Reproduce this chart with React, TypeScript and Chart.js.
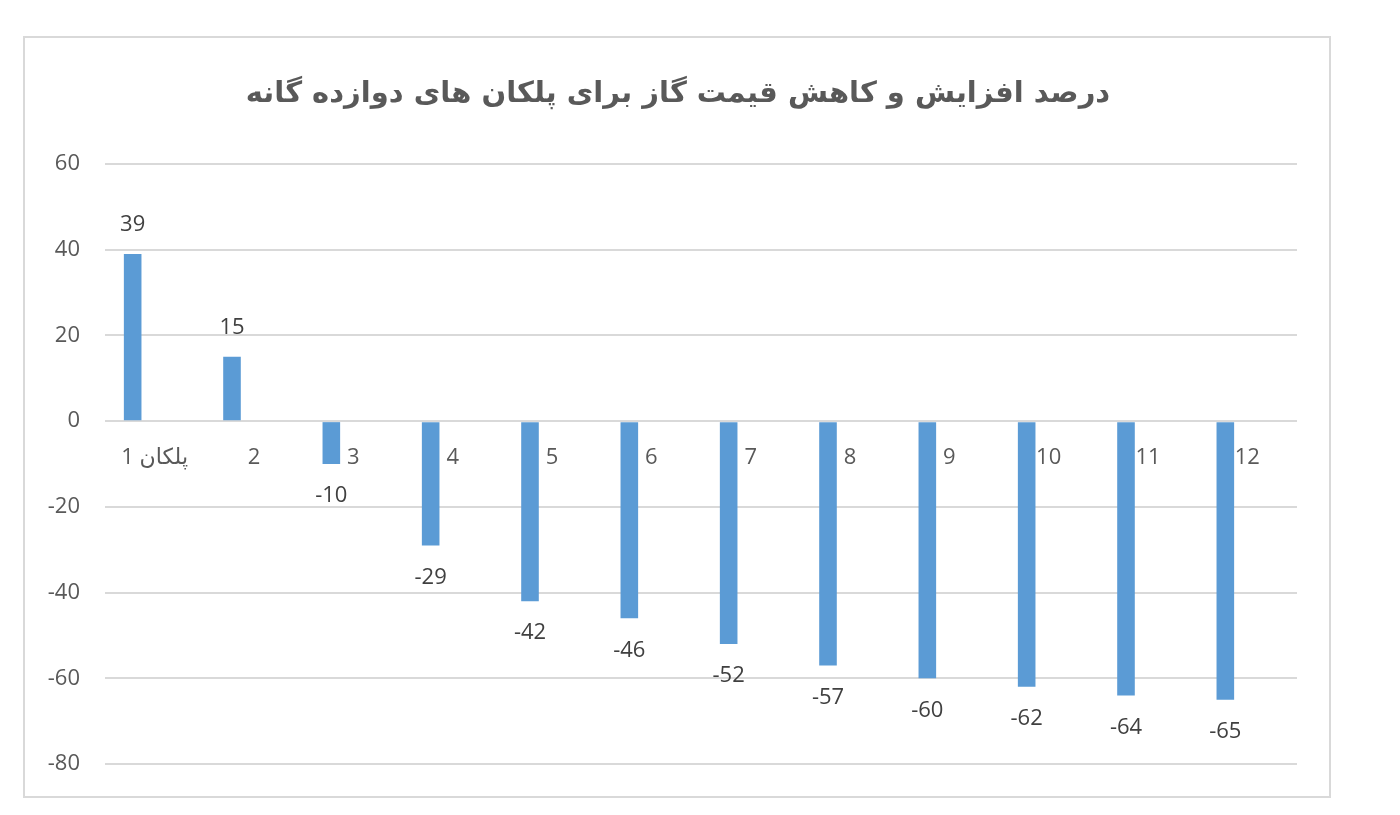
import React, { useEffect, useRef } from "react";
import { Chart, registerables } from "chart.js";

Chart.register(...registerables);

const titleText = "درصد افزایش و کاهش قیمت گاز برای پلکان های دوازده گانه";
const categories = ["پلکان 1", "2", "3", "4", "5", "6", "7", "8", "9", "10", "11", "12"];
const changeValues = [39, 15, -10, -29, -42, -46, -52, -57, -60, -62, -64, -65];
const emptyValues = categories.map(() => null);
const yMin = -80;
const yMax = 60;
const yStep = 20;

const frameAndText = {
  id: "frameAndText",
  beforeDraw(chart: any) {
    const ctx = chart.ctx;
    ctx.save();
    ctx.fillStyle = "#ffffff";
    ctx.fillRect(0, 0, chart.width, chart.height);
    ctx.strokeStyle = "#d9d9d9";
    ctx.lineWidth = 2;
    ctx.strokeRect(24, 37, 1306, 760);
    ctx.fillStyle = "#595959";
    ctx.font = "bold 29px 'DejaVu Sans', 'Open Sans', sans-serif";
    ctx.textAlign = "center";
    ctx.textBaseline = "middle";
    ctx.direction = "rtl";
    ctx.fillText(titleText, 678, 94);
    ctx.restore();
  },
  afterDatasetsDraw(chart: any) {
    const ctx = chart.ctx;
    const xs = chart.scales.x;
    const ys = chart.scales.y;
    const zeroY = ys.getPixelForValue(0);
    ctx.save();
    ctx.textAlign = "center";
    ctx.textBaseline = "middle";
    // category labels
    ctx.fillStyle = "#595959";
    ctx.font = "22px 'Open Sans', 'DejaVu Sans', sans-serif";
    ctx.direction = "rtl";
    categories.forEach((c, i) => {
      ctx.fillText(c, xs.getPixelForValue(i), zeroY + 37);
    });
    // data labels
    ctx.direction = "ltr";
    ctx.fillStyle = "#404040";
    const meta = chart.getDatasetMeta(0);
    meta.data.forEach((el: any, i: number) => {
      const v = changeValues[i];
      const y = v >= 0 ? el.y - 29 : el.y + 32;
      ctx.fillText(String(v), el.x, y);
    });
    ctx.restore();
  },
};

export default function App() {
  const ref = useRef<HTMLCanvasElement>(null);
  useEffect(() => {
    if (!ref.current) return;
    const chart = new Chart(ref.current, {
      type: "bar",
      data: {
        labels: categories,
        datasets: [
          {
            data: changeValues,
            backgroundColor: "#5B9BD5",
            categoryPercentage: 0.886,
            barPercentage: 0.4,
          },
          {
            data: emptyValues as any,
            backgroundColor: "#ED7D31",
            categoryPercentage: 0.886,
            barPercentage: 0.4,
          },
        ],
      },
      options: {
        responsive: false,
        animation: false,
        layout: { padding: { left: 0, right: 103, top: 164, bottom: 51 } },
        plugins: {
          legend: { display: false },
          title: { display: false },
          tooltip: { enabled: false },
        },
        scales: {
          x: {
            display: false,
            grid: { display: false },
          },
          y: {
            min: yMin,
            max: yMax,
            afterFit(scale: any) {
              scale.width = 105;
            },
            border: { display: false },
            grid: { color: "#d9d9d9", lineWidth: 2, drawTicks: false },
            ticks: {
              stepSize: yStep,
              padding: 25,
              color: "#595959",
              font: { family: "'Open Sans', sans-serif", size: 22 },
            },
          },
        },
      },
      plugins: [frameAndText],
    });
    return () => chart.destroy();
  }, []);
  return (
    <div style={{ position: "fixed", left: 0, top: 0, width: 1400, height: 815, background: "#fff" }}>
      <canvas ref={ref} width={1400} height={815} style={{ width: 1400, height: 815 }} />
    </div>
  );
}
